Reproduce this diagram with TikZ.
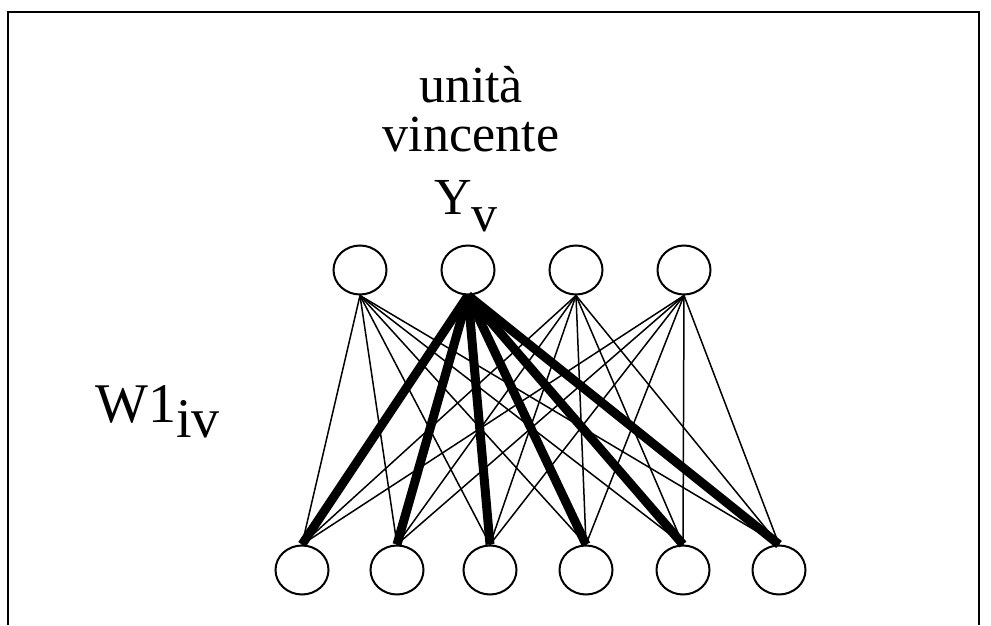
\documentclass[tikz,border=0pt]{standalone}
\usepackage{fontspec}
\setmainfont{Liberation Serif}
\usetikzlibrary{shapes.geometric}

\begin{document}
\begin{tikzpicture}[
  x=1pt, y=1pt,
  unit/.style = {draw, ellipse, line width=2pt, inner sep=0pt,
                 minimum width=53pt, minimum height=49pt},
  wthin/.style = {line width=1.5pt},
  wthick/.style = {line width=9pt},
  txt/.style = {inner sep=0pt, font=\fontsize{52}{56}\selectfont}
]
\useasboundingbox (0,0) rectangle (991,625);
\draw[line width=2pt] (8,0) -- (8,613) -- (979,613) -- (979,0);

% output units
\foreach \x [count=\i] in {360,468,576,684}
  \node[unit] (out\i) at (\x,355) {};
% input units
\foreach \x [count=\j] in {302,397,490,586,683,779}
  \node[unit] (in\j) at (\x,55) {};

% weights
\foreach \i in {1,3,4}
  \foreach \j in {1,...,6}
    \draw[wthin] (out\i.south) -- (in\j.north);
\foreach \j in {1,...,6}
  \draw[wthick] (out2.south) -- (in\j.north);

% labels
\node[txt, anchor=base] (unita) at (471,522) {unità};
\node[txt, anchor=base] (vinc) at (471,473) {vincente};
\node[txt, anchor=base west] (yv) at (434,410) {Y\raisebox{-17pt}{v}};
\node[txt, anchor=base west, font=\fontsize{56}{60}\selectfont] (w1) at (95,203) {W1\raisebox{-15pt}{iv}};
\end{tikzpicture}
\end{document}
